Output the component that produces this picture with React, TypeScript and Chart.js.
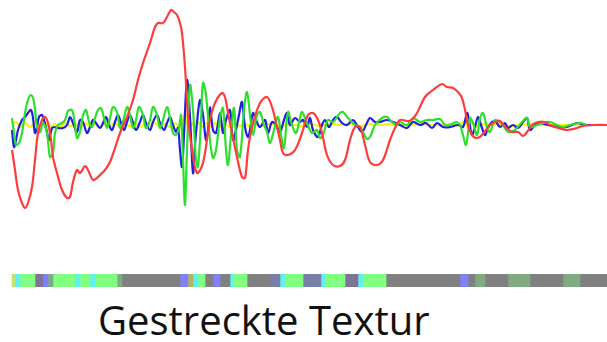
import { useEffect, useRef } from "react";
import { Chart, registerables } from "chart.js";

Chart.register(...registerables);

// [position along the trace, amplitude]
const red: [number, number][] = [
  [12, -25], [15, -45], [18, -65], [22, -78], [25, -83], [28, -78], [32, -62], [35, -35], [38, -8], [42, 5],
  [45, 8], [48, 2], [51, -15], [53, -32], [57, -48], [62, -65], [67, -73], [70, -72], [73, -57], [77, -45],
  [80, -48], [85, -41], [88, -45], [93, -55], [97, -53], [100, -50], [105, -45], [110, -37], [115, -23], [120, -8],
  [127, 8], [133, 25], [138, 45], [143, 62], [150, 82], [155, 98], [158, 102], [163, 102], [168, 110], [171, 115],
  [174, 113], [177, 110], [180, 102], [182, 92], [185, 58], [188, 8], [192, -25], [197, -48], [203, -38], [210, 5],
  [215, 22], [222, 32], [225, 28], [228, 12], [232, -8], [237, -32], [242, -52], [245, -53], [248, -25], [252, -2],
  [260, 22], [267, 28], [272, 18], [277, -2], [280, -15], [283, -28], [288, -30], [295, -25], [302, -8], [308, 10],
  [313, 12], [318, 5], [322, -8], [327, -30], [333, -40], [340, -41], [345, -35], [350, -15], [355, -2], [360, -2],
  [365, -20], [370, -37], [377, -40], [383, -35], [390, -15], [395, -3], [400, 5], [410, 4], [417, 12], [425, 28],
  [433, 35], [442, 41], [447, 38], [453, 37], [458, 33], [462, 27], [465, 15], [468, 0], [472, -10], [477, -13],
  [482, -10], [490, 0], [495, 3], [500, 4], [505, -2], [512, -7], [518, -7], [523, -11], [527, -7], [532, 0],
  [538, 3], [545, 3], [550, 0], [558, -3], [567, -5], [577, -3], [583, -1], [593, 0], [607, 0],
];

const green: [number, number][] = [
  [12, 7], [14, -8], [16, -20], [19, -18], [22, -8], [25, 12], [28, 25], [31, 30], [34, 23], [37, -2],
  [40, -7], [43, 2], [47, -8], [50, -32], [53, -28], [55, -8], [58, 0], [62, 2], [65, 5], [68, 14],
  [72, 15], [75, 0], [77, -13], [80, -7], [83, 10], [86, 15], [89, 3], [92, -2], [95, 7], [98, 15],
  [101, 17], [104, 7], [107, -3], [110, 7], [113, 18], [117, 13], [120, -3], [123, 3], [127, 18], [130, 10],
  [133, -3], [136, 5], [139, 18], [143, 10], [146, -3], [150, 5], [153, 18], [157, 10], [160, -3], [163, 5],
  [167, 18], [170, 7], [173, -8], [176, -10], [179, -3], [181, 10], [183, -35], [185, -80], [187, -25], [190, 40],
  [193, 15], [196, -35], [198, -42], [201, 5], [203, 42], [206, 30], [210, -15], [213, -33], [216, -25], [220, 7],
  [223, 17], [226, -25], [228, -40], [231, -10], [234, 17], [237, -25], [240, -32], [244, 15], [247, 33], [250, 10],
  [253, -10], [257, 10], [260, 13], [264, 0], [267, -7], [270, -18], [274, -5], [278, 8], [281, -10], [284, -23],
  [288, 13], [292, 0], [296, -8], [300, 7], [302, 13], [307, 2], [312, -8], [317, -5], [320, -13], [323, -10],
  [328, 5], [333, 3], [340, 12], [343, 13], [348, 7], [355, 0], [360, -2], [363, -7], [367, -14], [370, -12],
  [375, 0], [382, 7], [387, 8], [392, 3], [397, 0], [400, 3], [407, 0], [413, 7], [420, 3], [427, 5],
  [433, 5], [440, 6], [445, 0], [450, 0], [456, 3], [460, 0], [463, -10], [466, -20], [468, -8], [470, 7],
  [473, 2], [477, -10], [480, 7], [483, 12], [487, -2], [490, -7], [495, 5], [500, 3], [503, 0], [508, -7],
  [515, -5], [522, 3], [527, 7], [530, -2], [537, 0], [543, 2], [550, 3], [557, 0], [563, -2], [570, 0],
  [580, 2], [587, 0],
];

const blue: [number, number][] = [
  [12, -5], [14, -22], [16, -15], [18, -5], [22, 5], [25, 8], [28, 12], [31, 15], [33, 7], [35, -8],
  [37, -2], [39, 8], [42, 10], [44, 5], [47, -7], [49, -15], [52, -3], [55, -2], [58, -3], [63, -3],
  [67, 0], [70, 8], [73, 2], [77, -7], [80, 5], [83, 3], [87, -8], [90, -2], [93, 5], [96, 2],
  [100, -3], [103, 2], [106, 8], [109, 0], [112, -5], [115, 3], [118, 10], [121, 2], [124, -5], [127, 3],
  [130, 10], [133, 2], [136, -5], [140, 3], [143, 10], [146, 2], [150, -5], [153, 3], [157, 10], [160, 2],
  [164, -5], [167, 2], [170, 8], [173, 0], [176, -7], [178, -3], [180, -25], [182, -42], [184, -10], [187, 45],
  [190, 8], [193, -48], [195, -20], [197, 2], [200, 25], [203, 10], [206, -15], [208, -5], [210, 18], [213, -5],
  [216, -8], [220, 12], [223, -8], [226, 5], [230, 15], [233, -15], [236, -5], [239, 10], [242, 23], [245, -2],
  [248, -12], [250, -5], [253, 12], [256, 5], [260, -2], [265, 5], [268, -8], [272, 3], [276, 0], [280, -7],
  [284, 5], [287, 12], [290, 0], [295, 7], [300, 3], [303, 5], [307, -2], [310, 7], [313, -5], [318, -12],
  [322, 0], [325, 5], [329, -2], [333, 5], [337, 8], [342, 2], [347, 0], [353, 5], [358, -2], [362, -7],
  [366, 0], [370, 7], [375, 3], [380, 3], [387, 5], [393, 3], [400, 0], [407, -3], [413, 3], [420, 0],
  [426, 2], [432, -3], [437, 2], [443, -2], [450, -2], [458, 0], [463, -2], [467, 12], [469, 5], [472, -10],
  [475, -2], [478, 8], [481, 0], [485, -10], [488, -3], [492, 3], [496, 3], [500, -2], [505, 2], [508, -3],
  [513, 0], [518, -3], [523, 3], [527, 7], [530, -5], [535, 0], [540, 2], [548, 0], [558, -2], [567, -2],
  [577, 2], [585, 0], [593, 0],
];

const yellow: [number, number][] = [
  [12, 0], [16, 3], [20, -2], [25, 2], [30, -2], [35, 2], [40, -1], [45, 2], [50, -2], [55, 1],
  [60, -2], [65, 2], [70, -1], [75, 1], [80, -2], [85, 2], [90, -1], [95, 1], [100, -2], [105, 1],
  [110, -1], [115, 2], [120, -2], [125, 1], [130, -1], [135, 2], [140, -2], [145, 1], [150, -1], [155, 2],
  [160, -1], [165, 1], [170, -2], [175, 2], [180, -3], [183, 5], [185, 12], [187, 3], [189, -5], [192, 2],
  [195, -3], [198, 3], [202, -2], [206, 2], [210, -2], [215, 2], [220, -1], [225, 1], [230, -2], [235, 2],
  [240, -1], [245, 1], [250, -1], [255, 1], [260, -1], [270, 1], [280, -1], [290, 1], [300, -1], [310, 1],
  [320, -1], [330, 1], [340, 0], [350, 1], [360, -1], [370, 1], [380, 0], [390, 1], [400, 0], [410, 0],
  [420, 1], [430, 0], [440, 0], [450, 1], [460, 0], [465, 4], [468, -3], [472, 2], [476, -2], [480, 1],
  [490, 0], [500, 1], [510, -1], [520, 0], [530, 1], [540, 0], [550, 0], [560, 0], [570, 0], [580, 0],
  [590, 0], [607, 0],
];

// texture strip: segment boundaries and colours
const textureEdges = [
  12, 15, 20, 35, 43, 48, 53, 75, 80, 90, 95, 117, 122, 180, 188, 193, 198, 205, 213, 220,
  230, 233, 247, 270, 280, 285, 303, 321, 325, 345, 358, 363, 386, 460, 468, 475, 485, 508, 530, 563,
  580, 607,
];
const textureColors = [
  "#c0e66e", "#60f0f0", "#80ff80", "#807398", "#8080ff", "#80aa80", "#80ff80", "#60f0f0", "#80ff80", "#60f0f0",
  "#80ff80", "#80aa80", "#808080", "#8080ff", "#b4b45a", "#60f0f0", "#80ff80", "#808080", "#8080ff", "#808080",
  "#60f0f0", "#80ff80", "#808080", "#7880aa", "#60f0f0", "#80ff80", "#7880aa", "#60f0f0", "#80ff80", "#807398",
  "#60f0f0", "#80ff80", "#808080", "#8080ff", "#808080", "#80aa80", "#808080", "#80aa80", "#808080", "#80aa80",
  "#808080",
];

const caption = "Gestreckte Textur";

const toXY = (arr: [number, number][]) => arr.map(([x, y]) => ({ x, y }));

export default function App() {
  const lineRef = useRef<HTMLCanvasElement>(null);
  const barRef = useRef<HTMLCanvasElement>(null);

  useEffect(() => {
    const lineStyle = { pointRadius: 0, borderWidth: 2.2, tension: 0.35, fill: false, clip: false as any };
    const c1 = new Chart(lineRef.current!, {
      type: "line",
      data: {
        datasets: [
          { label: "R", data: toXY(red), borderColor: "#ff3c3c", ...lineStyle },
          { label: "G", data: toXY(green), borderColor: "#2ee02e", ...lineStyle },
          { label: "B", data: toXY(blue), borderColor: "#2020e0", ...lineStyle },
          { label: "Y", data: toXY(yellow), borderColor: "#fff000", ...lineStyle },
        ],
      },
      options: {
        responsive: false,
        animation: false,
        devicePixelRatio: 1,
        layout: { padding: 0 },
        plugins: { legend: { display: false }, tooltip: { enabled: false } },
        scales: {
          x: { type: "linear", min: 0, max: 607, display: false },
          y: { min: -95, max: 125, display: false },
        },
      },
    });

    const c2 = new Chart(barRef.current!, {
      type: "bar",
      data: {
        labels: ["Textur"],
        datasets: textureColors.map((col, i) => ({
          label: "s" + i,
          data: [[textureEdges[i], textureEdges[i + 1]]] as any,
          backgroundColor: col,
          borderWidth: 0,
          barPercentage: 1,
          categoryPercentage: 1,
          grouped: false,
        })),
      },
      options: {
        indexAxis: "y",
        responsive: false,
        animation: false,
        devicePixelRatio: 1,
        layout: { padding: 0 },
        plugins: { legend: { display: false }, tooltip: { enabled: false } },
        scales: {
          x: { type: "linear", min: 0, max: 607, display: false },
          y: { display: false },
        },
      },
    });

    return () => {
      c1.destroy();
      c2.destroy();
    };
  }, []);

  return (
    <div style={{ position: "fixed", left: 0, top: 0, width: 607, height: 342, background: "#fff", overflow: "hidden" }}>
      <canvas ref={lineRef} width={607} height={220} style={{ position: "absolute", left: 0, top: 0 }} />
      <canvas ref={barRef} width={607} height={13} style={{ position: "absolute", left: 0, top: 274 }} />
      <div
        style={{
          position: "absolute",
          left: 98,
          top: 300,
          fontFamily: "'Open Sans', sans-serif",
          fontSize: 40,
          lineHeight: "40px",
          color: "#111",
          whiteSpace: "nowrap",
        }}
      >
        {caption}
      </div>
    </div>
  );
}
